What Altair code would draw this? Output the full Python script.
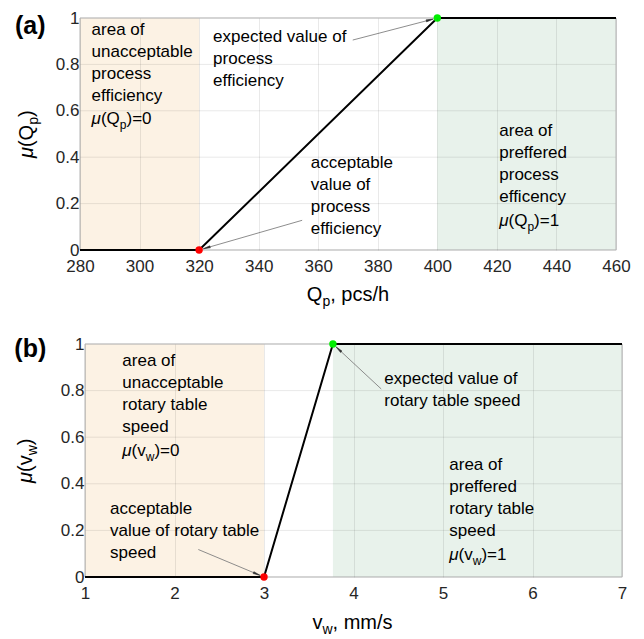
import math
import altair as alt
import pandas as pd

FONT = "Liberation Sans"
INK = "#000000"
AXIS_INK = "#262626"

# ---------------- data: panel (a) ----------------
a_x = [280, 320, 400, 460]
a_mu = [0, 0, 1, 1]
a_domain = [280, 460]
a_ticks = [280, 300, 320, 340, 360, 380, 400, 420, 440, 460]
a_zone_x0 = [280, 400]
a_zone_x1 = [320, 460]
a_zone_name = ["unacceptable", "preferred"]
a_pt_x = [320, 400]
a_pt_y = [0, 1]
a_pt_kind = ["acceptable", "expected"]
# annotation arrows (start -> end, data units)
a_arr_x0 = [371.6, 354.6]
a_arr_y0 = [0.905, 0.128]
a_arr_x1 = [400, 320]
a_arr_y1 = [1, 0]
# text blocks
a_blk_x = [283.9, 324.7, 357.5, 420.8]
a_blk_y = [0.976, 0.942, 0.399, 0.537]
a_blk_text = ["area of\nunacceptable\nprocess\nefficiency",
              "expected value of\nprocess\nefficiency",
              "acceptable\nvalue of\nprocess\nefficiency",
              "area of\npreffered\nprocess\nefficency"]
a_mu_x = [283.9, 420.8]
a_mu_y = [0.539, 0.099]
a_mu_val = ["0", "1"]

# ---------------- data: panel (b) ----------------
b_x = [1, 3, 3.77, 7]
b_mu = [0, 0, 1, 1]
b_domain = [1, 7]
b_ticks = [1, 2, 3, 4, 5, 6, 7]
b_zone_x0 = [1, 3.77]
b_zone_x1 = [3, 7]
b_zone_name = ["unacceptable", "preferred"]
b_pt_x = [3, 3.77]
b_pt_y = [0, 1]
b_pt_kind = ["acceptable", "expected"]
b_arr_x0 = [2.266, 4.31]
b_arr_y0 = [0.118, 0.807]
b_arr_x1 = [3, 3.77]
b_arr_y1 = [0, 1]
b_blk_x = [1.417, 1.279, 4.344, 5.07]
b_blk_y = [0.952, 0.319, 0.874, 0.508]
b_blk_text = ["area of\nunacceptable\nrotary table\nspeed",
              "acceptable\nvalue of rotary table\nspeed",
              "expected value of\nrotary table speed",
              "area of\npreffered\nrotary table\nspeed"]
b_mu_x = [1.417, 5.07]
b_mu_y = [0.514, 0.070]
b_mu_val = ["0", "1"]

y_ticks = [0, 0.2, 0.4, 0.6, 0.8, 1]

# approximate Arial/Liberation advance widths (em)
ADV = {"(": .333, ")": .333, "Q": .778, "p": .556, "v": .5, "w": .722,
       "μ": .576, "=": .584, "0": .556, "1": .556, ",": .278, " ": .278,
       "c": .5, "s": .5, "/": .278, "h": .556, "m": .833}


def tw(s, size):
    return sum(ADV.get(ch, .556) for ch in s) * size


def panel(xs, mus, domain, ticks, zx0, zx1, zname, ptx, pty, ptk,
          ax0, ay0, ax1, ay1, bx, by, btext, mux, muy, muval,
          var, sub, unit, tag, w, h, off, tag_dx, tag_dy, ytitle_dy, xtitle_dy, xtitle_shift):
    sx = w / (domain[1] - domain[0])
    sy = h
    xenc_kw = dict(
        scale=alt.Scale(domain=domain, nice=False, zero=False, range=[off, off + w]),
        axis=alt.Axis(values=ticks, title=None, grid=True, ticks=False, domain=False,
                      labelFontSize=17, labelFont=FONT, labelColor=AXIS_INK,
                      labelFlush=False, labelOverlap=False, labelPadding=8,
                      gridColor="#262626", gridOpacity=0.1, format="d", zindex=1),
    )
    yenc_kw = dict(
        scale=alt.Scale(domain=[0, 1], nice=False, zero=False),
        axis=alt.Axis(values=y_ticks, title=None, grid=False, ticks=False, domain=False,
                      labelFontSize=17, labelFont=FONT, labelColor=AXIS_INK,
                      labelPadding=1, labelOverlap=False, labelFlush=False,
                      offset=-off, format="~g", zindex=1),
    )

    def X(f="x"):
        return alt.X(f"{f}:Q", **xenc_kw)

    def Y(f="y"):
        return alt.Y(f"{f}:Q", **yenc_kw)

    zones = pd.DataFrame({"x": zx0, "x2": zx1, "y": [0, 0], "y2": [1, 1], "zone": zname})
    shade = alt.Chart(zones).mark_rect(strokeWidth=0).encode(
        x=X(), x2="x2:Q", y=Y(), y2="y2:Q",
        fill=alt.Fill("zone:N", legend=None,
                      scale=alt.Scale(domain=["unacceptable", "preferred"],
                                      range=["#fcf2e4", "#e8f2eb"])))

    hgrid = alt.Chart(pd.DataFrame({"y": y_ticks, "x": domain[0], "x2": domain[1]})).mark_rule(
        color="#262626", opacity=0.1, strokeWidth=1).encode(x=X(), x2="x2:Q", y=Y())

    box = alt.Chart(pd.DataFrame({"x": [domain[0]], "x2": [domain[1]], "y": [0], "y2": [1]})).mark_rect(
        fillOpacity=0, stroke="#b5b5b5", strokeWidth=1).encode(x=X(), x2="x2:Q", y=Y(), y2="y2:Q")

    curve = alt.Chart(pd.DataFrame({"x": xs, "y": mus})).mark_line(
        color=INK, strokeWidth=2).encode(x=X(), y=Y())

    # arrows
    rows = []
    heads = []
    for x0, y0, x1, y1 in zip(ax0, ay0, ax1, ay1):
        dxp = (x1 - x0) * sx
        dyp = -(y1 - y0) * sy
        L = math.hypot(dxp, dyp)
        ux, uy = dxp / L, dyp / L
        tip = 5.0
        tx = x1 - ux * tip / sx
        ty = y1 + uy * tip / sy
        hx = x1 - ux * (tip + 4) / sx
        hy = y1 + uy * (tip + 4) / sy
        ang = math.degrees(math.atan2(ux, -uy)) % 360
        rows.append({"x": x0, "y": y0, "x2": tx, "y2": ty})
        heads.append({"x": hx, "y": hy, "ang": ang})
    arrow_lines = alt.Chart(pd.DataFrame(rows)).mark_rule(
        color="#808080", strokeWidth=0.9).encode(x=X(), y=Y(), x2="x2:Q", y2="y2:Q")
    arrow_heads = alt.Chart(pd.DataFrame(heads)).mark_point(
        shape="wedge", filled=True, fill="#303030", stroke="#303030", strokeWidth=0.5,
        size=70, opacity=1).encode(
        x=X(), y=Y(), angle=alt.Angle("ang:Q", scale=None))

    pts = alt.Chart(pd.DataFrame({"x": ptx, "y": pty, "kind": ptk})).mark_circle(
        size=55, opacity=1).encode(
        x=X(), y=Y(),
        color=alt.Color("kind:N", legend=None,
                        scale=alt.Scale(domain=["acceptable", "expected"],
                                        range=["#ff0000", "#00ee00"])))

    blocks = alt.Chart(pd.DataFrame({"x": bx, "y": by, "t": btext})).mark_text(
        align="left", baseline="top", fontSize=17, font=FONT, color=INK, dy=-2,
        lineBreak="\n", lineHeight=22).encode(x=X(), y=Y(), text="t:N")

    layers = [shade, hgrid, box, curve, arrow_lines, arrow_heads, pts, blocks]

    # mu(var_sub)=val lines inside plot
    mu_df = pd.DataFrame({"x": mux, "y": muy, "val": muval})
    fs, fss = 17, 12
    d1 = tw("μ", fs) - 0.5
    d2 = d1 + tw("(" + var, fs)
    d3 = d2 + tw(sub, fss)
    common = dict(align="left", baseline="alphabetic", font=FONT, color=INK)
    layers.append(alt.Chart(mu_df).mark_text(text="μ", fontSize=fs, fontStyle="italic", dy=-1, **common)
                  .encode(x=X(), y=Y()))
    layers.append(alt.Chart(mu_df).mark_text(text="(" + var, fontSize=fs, dx=d1, dy=-1, **common)
                  .encode(x=X(), y=Y()))
    layers.append(alt.Chart(mu_df).mark_text(text=sub, fontSize=fss, dx=d2, dy=4, **common)
                  .encode(x=X(), y=Y()))
    layers.append(alt.Chart(mu_df.assign(t=")=" + mu_df["val"])).mark_text(
        fontSize=fs, dx=d3, dy=-1, **common).encode(x=X(), y=Y(), text="t:N"))

    # x axis title: var_sub, unit
    tf, tfs = 20, 14
    total = tw(var, tf) + tw(sub, tfs) + tw(", " + unit, tf)
    start = -total / 2 + xtitle_shift
    xt = pd.DataFrame({"x": [(domain[0] + domain[1]) / 2], "y": [0]})
    layers.append(alt.Chart(xt).mark_text(text=var, fontSize=tf, dx=start, dy=xtitle_dy, **common)
                  .encode(x=X(), y=Y()))
    layers.append(alt.Chart(xt).mark_text(text=sub, fontSize=tfs, dx=start + tw(var, tf),
                                          dy=xtitle_dy + 5, **common).encode(x=X(), y=Y()))
    layers.append(alt.Chart(xt).mark_text(text=", " + unit, fontSize=tf,
                                          dx=start + tw(var, tf) + tw(sub, tfs),
                                          dy=xtitle_dy, **common).encode(x=X(), y=Y()))

    # y axis title: mu(var_sub), rotated
    ytot = tw("μ", tf) + tw("(" + var, tf) + tw(sub, tfs) + tw(")", tf)
    ys = -ytot / 2
    yt = pd.DataFrame({"x": [domain[0]], "y": [0.5]})
    rot = dict(angle=270, **common)
    layers.append(alt.Chart(yt).mark_text(text="μ", fontSize=tf, fontStyle="italic",
                                          dx=ys, dy=ytitle_dy, **rot).encode(x=X(), y=Y()))
    e1 = ys + tw("μ", tf) - 0.5
    layers.append(alt.Chart(yt).mark_text(text="(" + var, fontSize=tf,
                                          dx=e1, dy=ytitle_dy, **rot).encode(x=X(), y=Y()))
    e2 = e1 + tw("(" + var, tf)
    layers.append(alt.Chart(yt).mark_text(text=sub, fontSize=tfs,
                                          dx=e2, dy=ytitle_dy + 5, **rot).encode(x=X(), y=Y()))
    e3 = e2 + tw(sub, tfs)
    layers.append(alt.Chart(yt).mark_text(text=")", fontSize=tf,
                                          dx=e3, dy=ytitle_dy, **rot).encode(x=X(), y=Y()))

    # panel tag
    tg = pd.DataFrame({"x": [domain[0]], "y": [1], "t": [tag]})
    layers.append(alt.Chart(tg).mark_text(align="left", baseline="alphabetic", font=FONT,
                                          fontSize=25, fontWeight="bold", color=INK,
                                          dx=tag_dx, dy=tag_dy).encode(x=X(), y=Y(), text="t:N"))

    return alt.layer(*layers).resolve_scale(color="independent", fill="independent").properties(
        width=w + off, height=h)


pa = panel(a_x, a_mu, a_domain, a_ticks, a_zone_x0, a_zone_x1, a_zone_name,
           a_pt_x, a_pt_y, a_pt_kind, a_arr_x0, a_arr_y0, a_arr_x1, a_arr_y1,
           a_blk_x, a_blk_y, a_blk_text, a_mu_x, a_mu_y, a_mu_val,
           "Q", "p", "pcs/h", "(a)", 536, 232, 0, -65, 16, -47, 51, 0)
pb = panel(b_x, b_mu, b_domain, b_ticks, b_zone_x0, b_zone_x1, b_zone_name,
           b_pt_x, b_pt_y, b_pt_kind, b_arr_x0, b_arr_y0, b_arr_x1, b_arr_y1,
           b_blk_x, b_blk_y, b_blk_text, b_mu_x, b_mu_y, b_mu_val,
           "v", "w", "mm/s", "(b)", 537, 233, 5, -70.7, 12.5, -52.7, 52, -1)

chart = alt.concat(pa, pb, columns=1, spacing=26, bounds="full").properties(
    padding={"left": 14, "top": 9, "right": 5, "bottom": 5},
    background="white",
).configure_view(stroke=None).resolve_scale(x="independent", y="independent")

chart.save("out.html", embed_options={"renderer": "svg", "actions": False})
